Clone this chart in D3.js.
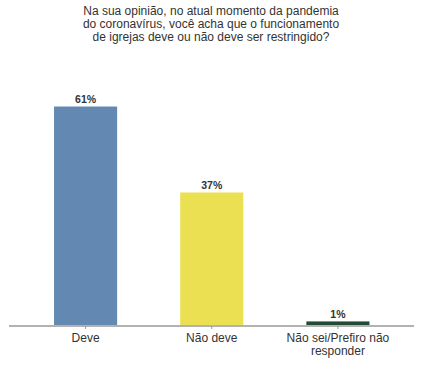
<!DOCTYPE html>
<html><head><meta charset="utf-8">
<script src="https://cdn.jsdelivr.net/npm/d3@7"></script>
<style>body{margin:0;background:#fff;}svg{display:block;font-family:"Liberation Sans",Arial,sans-serif;}</style>
</head><body>
<script>
const titleLines = ["Na sua opinião, no atual momento da pandemia","do coronavírus, você acha que o funcionamento","de igrejas deve ou não deve ser restringido?"];
const categories = ["Deve","Não deve","Não sei/Prefiro não responder"];
const categoryLines = [["Deve"],["Não deve"],["Não sei/Prefiro não","responder"]];
const values = [61,37,1];
const valueLabels = ["61%","37%","1%"];
const colors = ["#6388b1","#ebe052","#234a33"];

const W=421,H=378;
const svg=d3.select("body").append("svg").attr("width",W).attr("height",H);
const x=d3.scaleBand().domain(categories).range([22.5,401]).paddingInner(0.5).paddingOuter(0.25);
const y=d3.scaleLinear().domain([0,70]).range([325,74.3]);

svg.append("g").selectAll("text").data(titleLines).join("text")
  .attr("x",211).attr("y",(d,i)=>15+i*13).attr("text-anchor","middle")
  .attr("font-size",12).attr("fill","#333").text(d=>d);

svg.append("g").selectAll("rect").data(values).join("rect")
  .attr("x",(d,i)=>x(categories[i])).attr("width",x.bandwidth())
  .attr("y",d=>y(d)).attr("height",d=>y(0)-y(d))
  .attr("fill",(d,i)=>colors[i]);

svg.append("g").selectAll("text").data(values).join("text")
  .attr("x",(d,i)=>x(categories[i])+x.bandwidth()/2).attr("y",d=>y(d)-3.5)
  .attr("text-anchor","middle").attr("font-size",10.5).attr("font-weight","bold").attr("fill","#333")
  .text((d,i)=>valueLabels[i]);

const ax=svg.append("g").attr("transform","translate(0,326)")
  .call(d3.axisBottom(x).tickSize(3).tickSizeOuter(0).tickFormat(""));
ax.select(".domain").attr("d","M9,0H414").attr("stroke","#999").attr("stroke-width",1.3);
ax.selectAll(".tick line").attr("stroke","#999");

const lab=svg.append("g");
categories.forEach((c,i)=>{
  const t=lab.append("text").attr("x",x(c)+x.bandwidth()/2).attr("text-anchor","middle")
    .attr("font-size",12).attr("fill","#333");
  categoryLines[i].forEach((l,j)=>t.append("tspan").attr("x",x(c)+x.bandwidth()/2).attr("y",342+j*12.5).text(l));
});
</script>
</body></html>
